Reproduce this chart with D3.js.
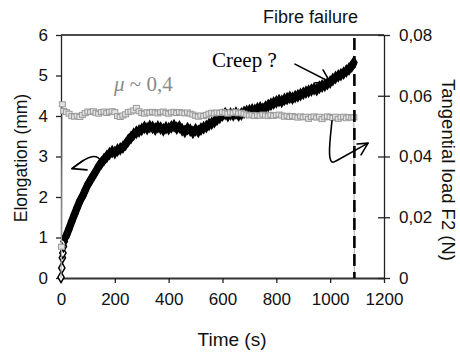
<!DOCTYPE html>
<html><head><meta charset="utf-8">
<script src="https://cdn.jsdelivr.net/npm/d3@7"></script>
<style>
html,body{margin:0;padding:0;background:#fff;}
svg{display:block;font-family:"Liberation Sans",Arial,sans-serif;}
</style></head>
<body><svg id="c" width="460" height="355"></svg>
<script>
// ---- data ----
const xTicks = [0,200,400,600,800,1000,1200];
const yLeftTicks = [0,1,2,3,4,5,6];
const yRightTicks = [0,0.02,0.04,0.06,0.08];

const timeE = [0,3,5,7,9,12,16].concat(d3.range(20,1090,10)).concat([1088]);
const elongation = [0.02,0.25,0.50,0.62,0.78,0.90,1.00,
 1.05,1.22,1.40,1.57,1.74,1.90,2.02,2.17,2.31,2.42,
 2.53,2.64,2.76,2.84,2.93,3.00,3.07,3.12,3.10,3.16,
 3.19,3.23,3.30,3.40,3.47,3.55,3.60,3.63,3.67,3.72,
 3.69,3.74,3.72,3.68,3.73,3.70,3.66,3.71,3.69,3.73,
 3.76,3.70,3.73,3.66,3.62,3.69,3.65,3.60,3.66,3.62,
 3.68,3.71,3.74,3.79,3.82,3.86,3.92,3.97,4.02,4.06,
 4.01,4.05,4.03,4.07,4.02,4.05,4.09,4.11,4.13,4.15,
 4.14,4.18,4.20,4.17,4.22,4.26,4.29,4.32,4.35,4.38,
 4.36,4.41,4.43,4.46,4.44,4.48,4.50,4.53,4.56,4.59,
 4.61,4.64,4.67,4.65,4.71,4.74,4.76,4.80,4.84,4.90,
 4.95,4.99,5.02,5.06,5.11,5.16,5.23,5.32];

const timeF = [0,2,5].concat(d3.range(10,1090,10)).concat([1088,1090]);
const load = [0,0.0103,0.0572,
 0.0550,0.0546,0.0541,0.0533,0.0531,0.0534,0.0530,0.0537,0.0543,0.0548,
 0.0546,0.0549,0.0544,0.0541,0.0546,0.0548,0.0543,0.0547,0.0549,0.0546,
 0.0533,0.0530,0.0535,0.0539,0.0546,0.0548,0.0552,0.0560,0.0549,0.0543,
 0.0541,0.0546,0.0544,0.0547,0.0545,0.0542,0.0546,0.0548,0.0544,0.0541,
 0.0545,0.0547,0.0543,0.0546,0.0544,0.0542,0.0545,0.0541,0.0538,0.0534,
 0.0531,0.0535,0.0533,0.0537,0.0541,0.0544,0.0542,0.0545,0.0543,0.0546,
 0.0544,0.0541,0.0545,0.0543,0.0546,0.0542,0.0544,0.0541,0.0538,0.0535,
 0.0537,0.0533,0.0536,0.0534,0.0538,0.0535,0.0533,0.0537,0.0534,0.0536,
 0.0538,0.0535,0.0531,0.0534,0.0530,0.0533,0.0531,0.0528,0.0532,0.0529,
 0.0531,0.0524,0.0530,0.0532,0.0528,0.0531,0.0523,0.0529,0.0532,0.0530,
 0.0527,0.0531,0.0524,0.0529,0.0531,0.0526,0.0530,0.0528,
 0.0529,0];

const failureTime = 1090;

// ---- layout ----
const svg = d3.select("#c");
const x = d3.scaleLinear([0,1200],[61,384]);
const yL = d3.scaleLinear([0,6],[278,35]);
const yR = d3.scaleLinear([0,0.08],[278,35]);

svg.append("line").attr("x1",x(0)).attr("x2",x(1200)).attr("y1",yL(6)).attr("y2",yL(6))
  .attr("stroke","#111").attr("stroke-width",1.3);

const gL = svg.append("g").attr("transform",`translate(${x(0)},0)`)
  .call(d3.axisLeft(yL).tickValues(yLeftTicks).tickSize(5).tickSizeOuter(0).tickPadding(8).tickFormat(d3.format("d")));
const gB = svg.append("g").attr("transform",`translate(0,${yL(0)})`)
  .call(d3.axisBottom(x).tickValues(xTicks).tickSize(5).tickSizeOuter(0).tickPadding(10).tickFormat(d3.format("d")));
const gR = svg.append("g").attr("transform",`translate(${x(1200)},0)`)
  .call(d3.axisRight(yR).tickValues(yRightTicks).tickSize(6).tickSizeOuter(0).tickPadding(9)
    .tickFormat(d => d===0 ? "0" : d3.format(".2f")(d).replace(".",",")));
gR.selectAll(".tick line").attr("x1",-6);

[gL,gB,gR].forEach(g=>{
  g.selectAll("text").attr("font-size",17).attr("fill","#111")
   .attr("font-family","'Liberation Sans',Arial,sans-serif");
  g.selectAll("line").attr("stroke","#222").attr("stroke-width",1.3);
  g.select(".domain").attr("stroke","#222").attr("stroke-width",1.3);
});
gB.select(".domain").attr("stroke","#333").attr("stroke-width",1.8);

// ---- series: elongation (black diamonds) ----
const eData = timeE.map((t,i)=>({t, v:elongation[i]}));
svg.append("path").datum(eData.slice(6))
  .attr("d", d3.line().x(d=>x(d.t)).y(d=>yL(d.v)))
  .attr("fill","none").attr("stroke","#000").attr("stroke-width",7.5).attr("stroke-linejoin","round");
const diamond = d3.symbol(d3.symbolDiamond, 34);
svg.append("g").selectAll("path").data(eData).join("path")
  .attr("transform", d=>`translate(${x(d.t)},${yL(d.v)})`)
  .attr("d", diamond)
  .attr("fill",(d,i)=> i<6 ? "#fff" : "#000")
  .attr("stroke","#000").attr("stroke-width",1.5);

// ---- series: tangential load (grey squares) ----
const fData = timeF.map((t,i)=>({t, v:load[i]}));
svg.append("path").datum(fData)
  .attr("d", d3.line().x(d=>x(d.t)).y(d=>yR(d.v)))
  .attr("fill","none").attr("stroke","#aaa").attr("stroke-width",1);
svg.append("g").selectAll("rect").data(fData.filter(d=>d.v>0)).join("rect")
  .attr("x", d=>x(d.t)-3).attr("y", d=>yR(d.v)-2.5)
  .attr("width",6).attr("height",5)
  .attr("fill","#e2e2e2").attr("stroke","#999").attr("stroke-width",1);

// ---- fibre failure dashed line ----
svg.append("line").attr("x1",x(failureTime)).attr("x2",x(failureTime))
  .attr("y1",38).attr("y2",yL(0))
  .attr("stroke","#000").attr("stroke-width",2.6).attr("stroke-dasharray","12,6");

// ---- annotations (in data units) ----
const P = (t,v)=>[x(t),yL(v)];
const ann = svg.append("g").attr("fill","none").attr("stroke","#000").attr("stroke-width",1.6)
  .attr("stroke-linecap","round").attr("stroke-linejoin","round");
{
  const a=P(148.6,2.89), c1=P(133.7,3.06), c2=P(107.7,3.06), tip=P(40.9,2.70);
  ann.append("path").attr("d",`M${a}C${c1} ${c2} ${tip}`);
  ann.append("path").attr("d",`M${P(81.7,2.90)}L${tip}L${P(96.6,2.67)}`);
}
{
  const a=P(1006.8,3.88), c1=P(999.4,3.41), c2=P(984.5,2.70), m=P(1021.7,2.89), tip=P(1140.6,3.33);
  ann.append("path").attr("d",`M${a}C${c1} ${c2} ${m}L${tip}`);
  ann.append("path").attr("d",`M${P(1099.7,3.31)}L${tip}L${P(1114.6,3.04)}`);
}
{
  const a=P(869.3,5.28), tip=P(999.4,4.84);
  ann.append("path").attr("d",`M${a}L${tip}`);
  ann.append("path").attr("d",`M${P(943.6,4.82)}L${tip}L${P(973.4,5.14)}`);
}

svg.append("text").attr("x",212).attr("y",67)
  .attr("font-family","'Liberation Serif','Times New Roman',serif").attr("font-size",21)
  .attr("fill","#000").text("Creep ?");
const mu = svg.append("text").attr("x",114).attr("y",91)
  .attr("font-family","'Liberation Serif','Times New Roman',serif").attr("font-size",21)
  .attr("fill","#8a8a8a");
mu.append("tspan").attr("font-style","italic").text("μ");
mu.append("tspan").text(" ~ 0,4");

svg.append("text").attr("x",358).attr("y",23).attr("text-anchor","end")
  .attr("font-size",18).attr("fill","#111").text("Fibre failure");

svg.append("text").attr("transform","translate(27,158) rotate(-90)").attr("text-anchor","middle")
  .attr("font-size",17.5).attr("fill","#111").text("Elongation (mm)");
svg.append("text").attr("transform","translate(442,170) rotate(90)").attr("text-anchor","middle")
  .attr("font-size",18.5).attr("fill","#111").text("Tangential load F2 (N)");
svg.append("text").attr("x",232).attr("y",346).attr("text-anchor","middle")
  .attr("font-size",19).attr("fill","#111").text("Time (s)");
</script></body></html>
